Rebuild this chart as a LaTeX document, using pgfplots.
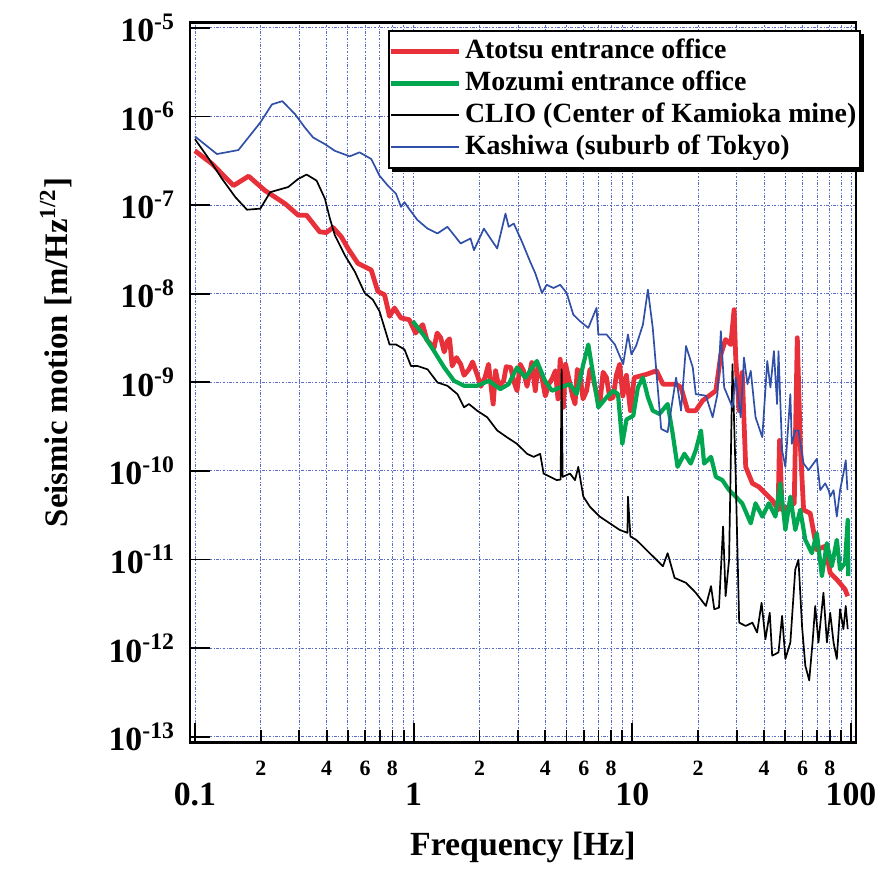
\documentclass[border=0pt]{standalone}
\usepackage{pgfplots}
\pgfplotsset{compat=1.18}
\usepackage{fontspec}
\setmainfont{Liberation Serif}
\definecolor{catotsu}{HTML}{E8303A}
\definecolor{cmozumi}{HTML}{00A650}
\definecolor{ckashiwa}{HTML}{3050A8}
\definecolor{cgrid}{HTML}{5A6BC8}

\begin{document}
\begin{tikzpicture}
\begin{axis}[
  scale only axis, width=335pt, height=362pt,
  xmode=log, ymode=log,
  xmin=0.0948, xmax=105.4, ymin=8.63e-14, ymax=1.148e-5,
  axis line style={line width=1.2pt},
  tick align=inside, xtick pos=left, ytick pos=left,
  every tick/.style={black, line width=0.9pt},
  major tick length=10pt, minor tick length=6pt,
  xtick={0.1,1,10,100}, xticklabels={0.1,1,10,100},
  minor xtick={0.2,0.3,0.4,0.5,0.6,0.7,0.8,0.9,2,3,4,5,6,7,8,9,20,30,40,50,60,70,80,90},
  ytick={1e-13,1e-12,1e-11,1e-10,1e-9,1e-8,1e-7,1e-6,1e-5},
  yticklabels={10\textsuperscript{-13},10\textsuperscript{-12},10\textsuperscript{-11},10\textsuperscript{-10},10\textsuperscript{-9},10\textsuperscript{-8},10\textsuperscript{-7},10\textsuperscript{-6},10\textsuperscript{-5}},
  yminorticks=false,
  tick label style={font=\fontsize{17}{17}\selectfont\bfseries},
  xticklabel style={yshift=-17pt},
  yticklabel style={xshift=-4pt},
  extra x ticks={0.2,0.4,0.6,0.8,2,4,6,8,20,40,60,80},
  extra x tick labels={2,4,6,8,2,4,6,8,2,4,6,8},
  extra x tick style={major tick length=6pt, grid=none,
    xticklabel style={yshift=11pt, font=\fontsize{11}{11}\selectfont\bfseries}},
  xmajorgrids, xminorgrids, ymajorgrids,
  grid style={cgrid, line width=0.45pt, dash pattern=on 1.3pt off 0.8pt on 0.4pt off 0.8pt},
  minor grid style={cgrid, line width=0.45pt, dash pattern=on 1.3pt off 0.8pt on 0.4pt off 0.8pt},
  xlabel={Frequency [Hz]},
  ylabel={Seismic motion [m/Hz\textsuperscript{1/2}]},
  label style={font=\fontsize{17}{17}\selectfont\bfseries},
  xlabel style={at={(axis description cs:0.5,-0.1565)}, anchor=base, inner sep=0pt},
  ylabel style={at={(axis description cs:-0.1836,0.5417)}, anchor=base, inner sep=0pt, font=\fontsize{16.5}{16.5}\selectfont\bfseries},
  legend cell align=left,
  legend image code/.code={\path (0pt,0pt) -- (34pt,0pt); \draw[#1] (5.5pt,0pt) -- (31pt,0pt);},
  legend style={name=leg, at={(0.297,0.99)}, anchor=north west, draw=black, line width=1pt,
    fill=white, inner xsep=0pt, inner ysep=2.5pt,
    font=\fontsize{14}{14}\selectfont\bfseries,
    nodes={inner xsep=2pt, inner ysep=1.5pt, text height=10pt, text depth=3pt}},
  every axis plot/.append style={line join=round},
]
\addplot[catotsu, line width=2.4pt] coordinates {
(0.100,4.10e-7) (0.120,2.91e-7) (0.150,1.66e-7) (0.176,2.12e-7) (0.209,1.46e-7)
(0.258,1.04e-7) (0.297,7.67e-8) (0.324,7.67e-8) (0.372,4.99e-8) (0.399,4.90e-8)
(0.428,5.58e-8) (0.467,4.39e-8) (0.501,3.24e-8) (0.556,2.20e-8) (0.597,2.02e-8)
(0.640,1.85e-8) (0.686,1.06e-8) (0.736,9.73e-9) (0.776,5.56e-9) (0.817,6.90e-9)
(0.875,5.32e-9) (0.955,5.09e-9) (1.02,3.60e-9) (1.10,4.48e-9) (1.15,3.00e-9)
(1.24,2.45e-9) (1.28,3.60e-9) (1.33,3.18e-9) (1.38,2.20e-9) (1.427,2.92e-9)
(1.46,3.10e-9) (1.50,1.53e-9) (1.57,1.90e-9) (1.641,1.60e-9) (1.70,1.20e-9)
(1.79,1.40e-9) (1.86,1.70e-9) (1.95,1.23e-9) (2.03,9.00e-10) (2.12,1.13e-9)
(2.20,1.60e-9) (2.31,5.69e-10) (2.37,1.35e-9) (2.45,9.00e-10) (2.58,1.04e-9)
(2.65,1.50e-9) (2.78,1.47e-9) (2.88,1.00e-9) (2.97,8.04e-10) (3.07,1.60e-9)
(3.18,1.35e-9) (3.30,9.00e-10) (3.47,1.67e-9) (3.60,8.04e-10) (3.70,1.50e-9)
(3.86,1.13e-9) (4.00,7.00e-10) (4.15,9.53e-10) (4.30,1.10e-9) (4.45,1.35e-9)
(4.57,6.50e-10) (4.68,1.82e-9) (4.84,5.22e-10) (4.95,1.60e-9) (5.19,9.53e-10)
(5.33,7.00e-10) (5.47,5.69e-10) (5.60,1.40e-9) (5.76,1.23e-9) (5.95,6.50e-10)
(6.18,8.04e-10) (6.40,1.40e-9) (6.62,1.13e-9) (6.85,7.50e-10) (7.10,5.69e-10)
(7.35,1.30e-9) (7.62,1.13e-9) (7.90,6.50e-10) (8.17,6.76e-10) (8.45,1.20e-9)
(8.75,1.60e-9) (9.05,7.00e-10) (9.40,1.20e-9)
(9.80,4.79e-10) (10.2,1.13e-9) (11.6,1.23e-9) (12.9,1.35e-9) (13.8,9.53e-10)
(15.85,9.53e-10) (16.7,8.75e-10) (17.9,4.79e-10) (19.5,4.79e-10) (20.96,6.21e-10)
(24.1,8.04e-10) (25.4,2.07e-9) (26.7,3.04e-9) (28.2,2.67e-9) (29.2,6.61e-9)
(29.7,1.90e-9) (30.8,4.79e-10) (31.8,1.29e-9) (33.0,1.11e-10) (35.4,7.24e-11)
(37.9,6.61e-11) (40.6,5.57e-11) (43.6,4.69e-11) (46.4,3.63e-11) (47.1,2.21e-10)
(48.4,3.63e-11) (51.7,3.94e-11) (55.0,4.31e-11) (56.8,3.18e-9) (58.6,2.02e-10)
(60.7,3.63e-11) (65.1,3.32e-11) (69.8,1.29e-11) (76.2,1.41e-11) (80.3,7.06e-12)
(86.1,5.96e-12) (93.9,4.60e-12) (96.6,3.86e-12)
};
\addlegendentry{Atotsu entrance office}
\addplot[cmozumi, line width=2.1pt] coordinates {
(0.99,4.90e-9) (1.12,3.32e-9) (1.24,2.25e-9) (1.38,1.47e-9) (1.53,1.04e-9)
(1.70,9.14e-10) (1.95,9.14e-10) (2.21,1.04e-9) (2.49,8.38e-10) (2.72,9.53e-10)
(2.97,1.47e-9) (3.24,1.13e-9) (3.66,1.74e-9) (3.99,1.04e-9) (4.29,8.04e-10)
(4.68,8.75e-10) (5.19,9.53e-10) (5.56,7.36e-10) (5.97,1.60e-9) (6.29,2.67e-9)
(6.62,1.23e-9) (6.99,5.22e-10) (7.62,6.76e-10) (8.17,8.04e-10) (8.60,7.36e-10)
(9.00,2.02e-10) (9.40,3.80e-10) (10.1,4.20e-10) (10.6,8.75e-10) (11.18,1.13e-9)
(11.78,6.76e-10) (12.4,4.79e-10) (13.3,4.39e-10) (14.5,5.69e-10) (15.3,2.62e-10)
(16.1,1.11e-10) (17.3,1.56e-10) (18.5,1.21e-10) (19.5,1.71e-10) (20.6,2.86e-10)
(21.3,1.21e-10) (22.9,1.44e-10) (24.1,8.57e-11) (25.8,7.87e-11) (27.7,6.07e-11)
(29.7,5.13e-11) (31.8,4.31e-11) (34.8,2.56e-11) (36.6,4.31e-11) (39.3,3.05e-11)
(42.1,4.31e-11) (45.1,3.05e-11) (47.5,7.21e-11) (50.1,2.16e-11) (52.8,5.13e-11)
(55.6,2.16e-11) (58.6,3.63e-11) (61.8,1.67e-11) (66.2,1.18e-11) (69.8,1.98e-11)
(73.6,6.49e-12) (77.6,1.53e-11) (81.7,8.39e-12) (86.1,1.67e-11) (89.1,7.71e-12)
(93.9,9.14e-12) (96.6,2.80e-11) (97.2,6.49e-12)
};
\addlegendentry{Mozumi entrance office}
\addplot[black, line width=0.85pt] coordinates {
(0.100,5.55e-7) (0.116,3.31e-7) (0.133,1.98e-7) (0.153,1.23e-7) (0.173,8.87e-8)
(0.199,9.12e-8) (0.221,1.40e-7) (0.267,1.60e-7) (0.297,1.98e-7) (0.324,2.21e-7)
(0.360,1.89e-7) (0.393,1.18e-7) (0.414,7.05e-8) (0.436,4.58e-8) (0.484,2.73e-8)
(0.538,1.78e-8) (0.597,1.02e-8) (0.651,8.55e-9) (0.698,6.34e-9) (0.736,4.11e-9)
(0.776,2.67e-9) (0.831,2.67e-9) (0.908,2.35e-9) (0.972,1.53e-9) (1.04,1.53e-9)
(1.158,1.40e-9) (1.285,9.95e-10) (1.427,9.14e-10) (1.585,7.36e-10) (1.70,5.22e-10)
(1.79,5.69e-10) (1.95,4.79e-10) (2.17,4.03e-10) (2.41,2.86e-10) (2.67,2.40e-10)
(2.97,2.02e-10) (3.30,1.56e-10) (3.54,1.44e-10) (3.79,1.56e-10) (3.93,9.33e-11)
(4.21,8.57e-11) (4.51,7.87e-11) (4.70,8.00e-11) (4.75,1.40e-9) (4.80,8.57e-11)
(5.19,9.33e-11) (5.47,7.87e-11) (5.66,1.11e-10) (5.97,5.13e-11) (6.40,3.94e-11)
(7.10,3.05e-11) (7.89,2.56e-11) (8.75,2.16e-11) (9.50,2.00e-11) (9.55,5.13e-11)
(9.80,1.82e-11) (10.4,1.67e-11) (10.8,1.53e-11) (12.4,1.09e-11) (13.8,8.39e-12)
(14.5,1.18e-11) (15.6,6.21e-12) (17.6,5.46e-12) (19.5,4.22e-12) (21.7,2.99e-12)
(22.9,5.01e-12) (23.7,2.75e-12) (24.9,2.86e-12) (26.0,2.36e-11) (26.7,3.86e-12)
(27.7,9.98e-12) (28.7,1.60e-9) (29.7,8.57e-11) (30.8,1.94e-12) (33.0,1.78e-12)
(35.4,1.94e-12) (37.2,1.50e-12) (39.0,3.25e-12) (40.6,1.26e-12) (42.5,2.51e-12)
(43.6,8.22e-13) (46.6,8.95e-13) (48.4,2.31e-12) (50.1,7.55e-13) (52.8,1.16e-12)
(55.6,7.71e-12) (57.5,9.98e-12) (59.7,1.78e-12) (61.8,6.35e-13) (64.4,4.32e-13)
(66.7,1.16e-12) (68.6,2.99e-12) (71.0,1.16e-12) (74.8,4.22e-12) (77.6,1.16e-12)
(80.3,2.51e-12) (83.2,1.16e-12) (86.1,7.55e-13) (89.1,2.75e-12) (92.3,1.64e-12)
(94.6,2.99e-12) (96.6,1.64e-12)
};
\addlegendentry{CLIO (Center of Kamioka mine)}
\addplot[ckashiwa, line width=0.85pt] coordinates {
(0.100,5.96e-7) (0.126,3.77e-7) (0.158,4.18e-7) (0.199,8.55e-7) (0.225,1.37e-6)
(0.251,1.49e-6) (0.287,1.06e-6) (0.318,7.52e-7) (0.347,5.79e-7) (0.393,4.88e-7)
(0.436,4.10e-7) (0.510,3.55e-7) (0.566,3.94e-7) (0.640,3.31e-7) (0.698,2.15e-7)
(0.762,1.66e-7) (0.831,1.34e-7) (0.875,9.55e-8) (0.908,1.08e-7) (0.939,9.55e-8)
(1.04,6.80e-8) (1.158,5.43e-8) (1.285,4.79e-8) (1.427,5.69e-8) (1.641,3.69e-8)
(1.82,4.20e-8) (1.888,3.10e-8) (2.095,5.43e-8) (2.245,4.20e-8) (2.41,3.24e-8)
(2.63,8.02e-8) (2.72,5.69e-8) (2.87,6.19e-8) (3.13,3.85e-8) (3.41,2.30e-8)
(3.60,1.70e-8) (3.86,1.02e-8) (4.06,1.26e-8) (4.36,1.16e-8) (4.68,1.26e-8)
(5.01,1.02e-8) (5.37,5.81e-9) (5.76,4.90e-9) (6.29,4.11e-9) (6.86,6.92e-9)
(6.99,3.47e-9) (7.62,3.47e-9) (8.32,2.67e-9) (9.08,1.60e-9) (9.55,3.47e-9)
(9.90,2.07e-9) (10.4,2.57e-9) (11.18,4.48e-9) (11.78,1.11e-8) (12.4,4.11e-9)
(13.1,8.04e-10) (13.55,2.98e-10) (14.5,2.74e-10) (15.85,1.13e-9) (16.7,4.79e-10)
(17.6,2.57e-9) (18.9,1.47e-9) (19.5,7.36e-10) (21.7,7.06e-10) (23.3,4.03e-10)
(24.5,7.36e-10) (25.4,3.78e-9) (26.3,8.75e-10) (28.7,5.22e-10) (29.7,1.13e-9)
(31.3,4.03e-10) (32.4,1.90e-9) (33.6,9.53e-10) (34.8,1.35e-9) (36.6,4.03e-10)
(39.3,2.40e-10) (41.4,1.74e-9) (42.8,8.75e-10) (44.4,2.25e-9) (45.9,5.69e-10)
(46.6,2.25e-9) (48.4,1.71e-10) (50.1,1.11e-10) (52.8,7.36e-10) (53.6,2.02e-10)
(55.6,2.86e-10) (57.5,2.86e-10) (60.7,1.21e-10) (64.0,1.02e-10) (69.8,1.37e-10)
(72.3,6.07e-11) (76.2,7.24e-11) (79.0,6.07e-11) (80.3,5.13e-11) (83.2,6.07e-11)
(86.1,3.05e-11) (89.1,6.07e-11) (92.3,9.33e-11) (94.6,1.32e-10) (96.3,6.07e-11)
};
\addlegendentry{Kashiwa (suburb of Tokyo)}
\end{axis}
\fill[black] ([yshift=-2pt]leg.north east) rectangle ([xshift=1.6pt,yshift=-1.6pt]leg.south east);
\fill[black] ([xshift=2pt]leg.south west) rectangle ([xshift=1.6pt,yshift=-1.6pt]leg.south east);
\path ([xshift=-95.5pt,yshift=-63.65pt]current axis.south west) rectangle ([xshift=11pt,yshift=11.35pt]current axis.north east);
\end{tikzpicture}
\end{document}
